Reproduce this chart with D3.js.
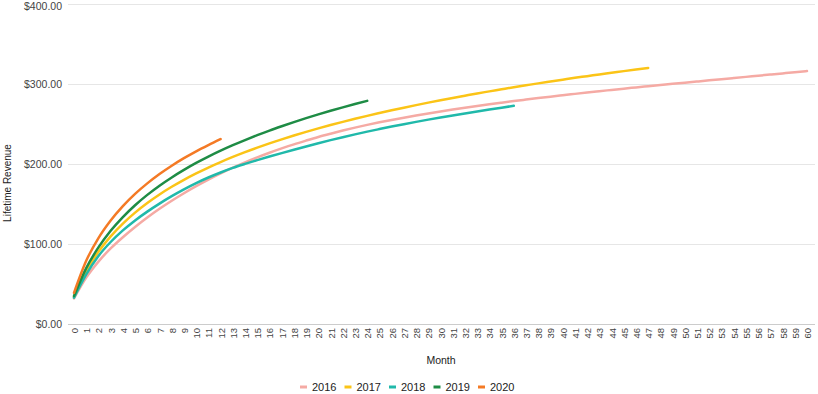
<!DOCTYPE html>
<html>
<head>
<meta charset="utf-8">
<script src="https://cdn.jsdelivr.net/npm/d3@7"></script>
<style>
  body { margin: 0; background: #fff; }
  text { font-family: Arial, "Liberation Sans", sans-serif; }
</style>
</head>
<body>
<div id="chart"></div>
<script>
// cohort lifetime revenue by month
const years = ["2016", "2017", "2018", "2019", "2020"];
const colors = ["#f5aaa4", "#fbc417", "#20b9aa", "#1e8c45", "#f47a25"];

const rev2016 = [32, 58, 78, 94.5, 108.5, 121.3, 133.1, 144, 154.1, 163.5, 172.3, 180.5, 188.2, 195.4, 202.1, 208.3,
  214.1, 219.5, 224.6, 229.3, 233.8, 237.9, 241.8, 245.5, 248.9, 252.1, 255.1, 257.9, 260.6, 263.2, 265.7,
  268.1, 270.4, 272.6, 274.7, 276.7, 278.65, 280.55, 282.4, 284.2, 285.95, 287.65, 289.35, 291, 292.6, 294.2,
  295.75, 297.25, 298.75, 300.2, 301.65, 303.1, 304.55, 306, 307.45, 308.9, 310.35, 311.8, 313.25, 314.7, 316.15];
const rev2017 = [34, 66.2, 90.3, 109.5, 125.5, 139.2, 151.2, 161.9, 171.5, 180.2, 188.2, 195.6, 202.4, 208.8, 214.8,
  220.4, 225.7, 230.8, 235.6, 240.1, 244.5, 248.7, 252.7, 256.5, 260.2, 263.7, 267.1, 270.4, 273.6, 276.7, 279.7,
  282.6, 285.4, 288.2, 290.8, 293.4, 296, 298.4, 300.8, 303.1, 305.4, 307.7, 309.8, 312, 314, 316.1, 318.1, 320];
const rev2018 = [33, 62, 85, 102.5, 117, 129.5, 140.5, 150.5, 159.8, 168.3, 176.1, 183.1, 189.4, 195.1, 200.1, 204.8,
  209.3, 213.6, 217.8, 221.9, 225.9, 229.8, 233.5, 237.05, 240.45, 243.65, 246.75, 249.75, 252.65, 255.45, 258.15,
  260.75, 263.25, 265.7, 268.1, 270.45, 272.75];
const rev2019 = [35, 69.8, 95.7, 116.5, 133.7, 148.5, 161.4, 172.9, 183.2, 192.6, 201.3, 209.2, 216.6, 223.5, 229.9,
  236, 241.8, 247.2, 252.4, 257.3, 262, 266.5, 270.8, 274.9, 278.9];
const rev2020 = [39, 79, 107.4, 129.4, 147.4, 162.7, 175.8, 187.5, 197.9, 207.3, 215.9, 223.7, 231.1];

const months = d3.range(0, 61);
const yTicks = [0, 100, 200, 300, 400];

const series = [rev2016, rev2017, rev2018, rev2019, rev2020].map((values, i) => ({
  year: years[i],
  color: colors[i],
  points: values.map((v, m) => ({ month: m, value: v }))
}));

const width = 818, height = 394;
const plotLeft = 68, plotRight = 815;

const x = d3.scaleLinear().domain([0, 60]).range([74, 807]);
const y = d3.scaleLinear().domain([0, 400]).range([324, 4]);

const svg = d3.select("#chart").append("svg")
  .attr("width", width)
  .attr("height", height);

// gridlines
svg.append("g")
  .selectAll("line")
  .data(yTicks)
  .join("line")
  .attr("x1", plotLeft)
  .attr("x2", plotRight)
  .attr("y1", d => y(d) + 0.5)
  .attr("y2", d => y(d) + 0.5)
  .attr("stroke", d => d === 0 ? "#cccccc" : "#e6e6e6")
  .attr("stroke-width", 1);

// y labels (top one pushed down so it stays inside)
svg.append("g")
  .selectAll("text")
  .data(yTicks)
  .join("text")
  .attr("x", 62)
  .attr("y", d => Math.max(y(d) + 4, 9.5))
  .attr("text-anchor", "end")
  .attr("font-size", 10.5)
  .attr("fill", "#444")
  .text(d => d3.format("$,.2f")(d));

// x axis labels, rotated
const xAxis = d3.axisBottom(x)
  .tickValues(months)
  .tickFormat(d3.format("d"))
  .tickSize(0);

svg.append("g")
  .attr("transform", `translate(0,${y(0)})`)
  .call(xAxis)
  .call(g => g.select(".domain").remove())
  .call(g => g.selectAll("text")
    .attr("font-size", 9.5)
    .attr("fill", "#444")
    .attr("font-family", "Arial, 'Liberation Sans', sans-serif")
    .attr("text-anchor", "end")
    .attr("dy", null)
    .attr("y", 0)
    .attr("transform", "translate(3.5,4) rotate(-90)"));

// lines
const line = d3.line()
  .x(d => x(d.month))
  .y(d => y(d.value))
  .curve(d3.curveMonotoneX);

svg.append("g")
  .attr("fill", "none")
  .attr("stroke-linecap", "round")
  .selectAll("path")
  .data(series)
  .join("path")
  .attr("stroke", d => d.color)
  .attr("stroke-width", 2.5)
  .attr("d", d => line(d.points));

// axis titles
svg.append("text")
  .attr("x", 441)
  .attr("y", 364)
  .attr("text-anchor", "middle")
  .attr("font-size", 10.5)
  .attr("fill", "#222")
  .text("Month");

svg.append("text")
  .attr("transform", "translate(11,183) rotate(-90)")
  .attr("text-anchor", "middle")
  .attr("font-size", 10)
  .attr("fill", "#222")
  .text("Lifetime Revenue");

// legend
const legend = svg.append("g")
  .selectAll("g")
  .data(series)
  .join("g")
  .attr("transform", (d, i) => `translate(${300 + i * 44.5},387)`);

legend.append("line")
  .attr("x1", 0)
  .attr("x2", 7)
  .attr("stroke", d => d.color)
  .attr("stroke-width", 3);

legend.append("text")
  .attr("x", 12)
  .attr("y", 4)
  .attr("font-size", 11)
  .attr("fill", "#222")
  .text(d => d.year);
</script>
</body>
</html>
